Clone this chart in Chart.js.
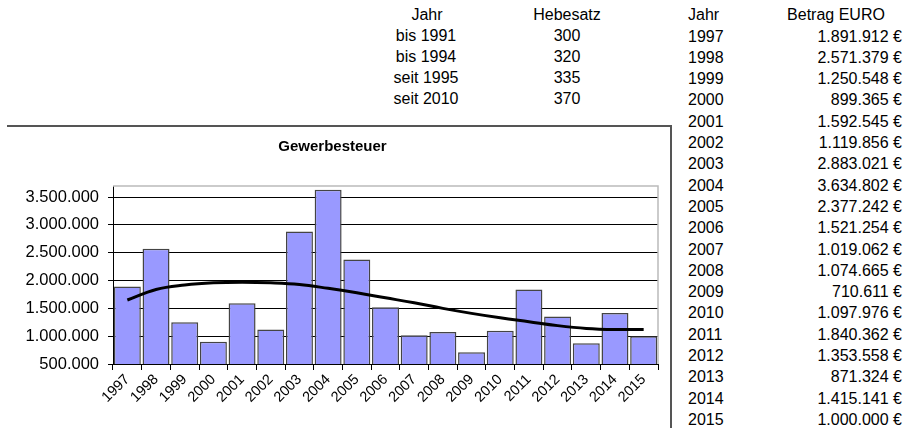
<!DOCTYPE html>
<html>
<head>
<meta charset="utf-8">
<script src="https://cdn.jsdelivr.net/npm/chart.js@4/dist/chart.umd.min.js"></script>
<style>
  html, body { margin: 0; padding: 0; background: #fff; }
  body { width: 906px; height: 428px; position: relative; overflow: hidden;
         font-family: "Liberation Sans", Arial, sans-serif; color: #000; }
  .t { position: absolute; font-size: 16px; line-height: 20px; white-space: nowrap; transform: translateY(-50%); }
  .c { transform: translate(-50%, -50%); }
  .r { transform: translate(-100%, -50%); }
  #frame { position: absolute; left: 7px; top: 125px; width: 663px; height: 320px;
           border-top: 2px solid #555; border-right: 2px solid #555; }
  #box { position: absolute; left: 7px; top: 127px; width: 662px; height: 301px; }
</style>
</head>
<body>
<div id="frame"></div>
<div id="box"><canvas id="chart"></canvas></div>
<div id="tables"></div>
<script>
// Daten
const jahre = ['1997','1998','1999','2000','2001','2002','2003','2004','2005','2006',
               '2007','2008','2009','2010','2011','2012','2013','2014','2015'];
const betrag = [1891912, 2571379, 1250548, 899365, 1592545, 1119856, 2883021, 3634802, 2377242, 1521254,
                1019062, 1074665, 710611, 1097976, 1840362, 1353558, 871324, 1415141, 1000000];
// Trendlinie
const trend = [1650000, 1840000, 1920000, 1960000, 1970000, 1960000, 1930000, 1860000, 1780000, 1690000,
               1600000, 1500000, 1410000, 1330000, 1260000, 1190000, 1140000, 1120000, 1120000];
const hebesatzJahr = ['bis 1991', 'bis 1994', 'seit 1995', 'seit 2010'];
const hebesatzWert = [300, 320, 335, 370];
const yTicks = [500000, 1000000, 1500000, 2000000, 2500000, 3000000, 3500000];

function fmt(v) {
    return String(v).replace(/\B(?=(\d{3})+(?!\d))/g, '.');
}

// Tabellen als Text
const tables = document.getElementById('tables');
function addText(txt, x, y, cls) {
    const d = document.createElement('div');
    d.className = 't ' + (cls || '');
    d.style.left = x + 'px';
    d.style.top = y + 'px';
    d.textContent = txt;
    tables.appendChild(d);
}
addText('Jahr', 427, 15, 'c');
addText('Hebesatz', 567, 15, 'c');
hebesatzJahr.forEach((j, i) => {
    addText(j, 426, 36 + i * 21, 'c');
    addText(String(hebesatzWert[i]), 567, 36 + i * 21, 'c');
});
addText('Jahr', 688, 15);
addText('Betrag EURO', 836, 15, 'c');
jahre.forEach((j, i) => {
    const y = 36.5 + i * 21.3;
    addText(j, 688, y);
    addText(fmt(betrag[i]) + ' €', 902, y, 'r');
});

// Rahmen oben/rechts um die Zeichenfläche
const plotFrame = {
    id: 'plotFrame',
    afterDraw(chart) {
        const a = chart.chartArea, c = chart.ctx;
        c.save();
        c.strokeStyle = '#bbb';
        c.lineWidth = 1.5;
        c.beginPath();
        c.moveTo(a.left, a.top);
        c.lineTo(a.right, a.top);
        c.lineTo(a.right, a.bottom);
        c.stroke();
        c.restore();
    }
};

new Chart(document.getElementById('chart'), {
    type: 'bar',
    data: {
        labels: jahre,
        datasets: [{
            type: 'line',
            data: trend,
            borderColor: '#000',
            borderWidth: 3,
            pointRadius: 0,
            tension: 0.4,
            fill: false,
            order: 0
        }, {
            data: betrag,
            backgroundColor: '#9999ff',
            borderColor: '#444',
            borderWidth: 1.5,
            barPercentage: 0.94,
            categoryPercentage: 1,
            order: 1
        }]
    },
    options: {
        responsive: true,
        maintainAspectRatio: false,
        animation: false,
        layout: { padding: { left: 0, right: 11, top: 0, bottom: 0 } },
        plugins: {
            legend: { display: false },
            tooltip: { enabled: false },
            title: {
                display: true,
                text: 'Gewerbesteuer',
                color: '#000',
                font: { family: 'Liberation Sans', size: 15, weight: 'bold' },
                padding: { top: 11, bottom: 30 }
            }
        },
        scales: {
            x: {
                grid: { offset: true, drawOnChartArea: false, tickLength: 6, color: '#000' },
                border: { color: '#000', width: 1 },
                ticks: {
                    autoSkip: false,
                    minRotation: 45, maxRotation: 45, padding: 1,
                    color: '#000',
                    font: { family: 'Liberation Sans', size: 14.5 }
                },
                afterFit(scale) { scale.height = 64; }
            },
            y: {
                min: 500000,
                max: 3700000,
                grid: { color: '#000', tickLength: 5 },
                border: { color: '#000', width: 1 },
                ticks: {
                    stepSize: 500000,
                    padding: 9,
                    color: '#000',
                    font: { family: 'Liberation Sans', size: 16.5 },
                    callback: v => fmt(v)
                },
                afterBuildTicks(scale) {
                    scale.ticks = yTicks.map(v => ({ value: v }));
                },
                afterFit(scale) { scale.width = 106; }
            }
        }
    },
    plugins: [plotFrame]
});
</script>
</body>
</html>
